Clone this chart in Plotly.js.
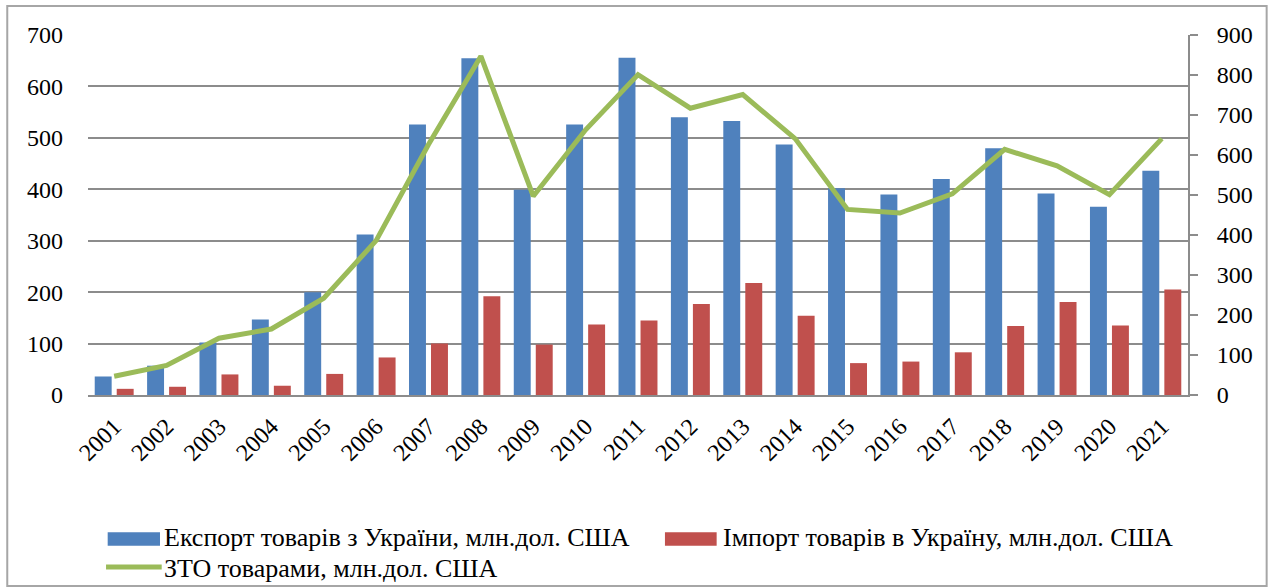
<!DOCTYPE html>
<html>
<head>
<meta charset="utf-8">
<script src="https://cdn.plot.ly/plotly-3.0.1.min.js"></script>
<style>
html,body{margin:0;padding:0;background:#fff;}
#chart{width:1276px;height:588px;}
</style>
</head>
<body>
<div id="chart"></div>
<script>
const years = ["2001","2002","2003","2004","2005","2006","2007","2008","2009","2010","2011","2012","2013","2014","2015","2016","2017","2018","2019","2020","2021"];
const exportVals = [36, 57, 102, 147, 200, 312, 526, 655, 399, 526, 656, 540, 533, 487, 402, 390, 420, 480, 392, 366, 436];
const importVals = [12, 16, 40, 18, 41, 73, 100, 192, 98, 137, 145, 177, 218, 154, 62, 65, 83, 134, 181, 135, 205];
const tradeVals = [47, 74, 142, 165, 242, 386, 626, 847, 497, 663, 801, 717, 751, 641, 464, 455, 503, 614, 573, 501, 641];
const seriesNames = ["Експорт товарів з України, млн.дол. США", "Імпорт товарів в Україну, млн.дол. США", "ЗТО товарами, млн.дол. США"];

const FONT = "Liberation Serif";
const GRID = "#8c8c8c";

const traces = [
  {type:"bar", x:years, y:exportVals, name:seriesNames[0], marker:{color:"#4F81BD"}, showlegend:false, hoverinfo:"skip"},
  {type:"bar", x:years, y:importVals, name:seriesNames[1], marker:{color:"#C0504D"}, showlegend:false, hoverinfo:"skip"},
  {type:"scatter", mode:"lines", x:years, y:tradeVals, yaxis:"y2", name:seriesNames[2], line:{color:"#9BBB59", width:5}, showlegend:false, hoverinfo:"skip"}
];

const layout = {
  width:1276, height:588,
  margin:{l:88, r:88, t:35, b:193},
  paper_bgcolor:"#fff", plot_bgcolor:"#fff",
  font:{family:FONT, size:24, color:"#000"},
  barmode:"group", bargap:0.16, bargroupgap:0.23,
  xaxis:{type:"category", tickangle:-45, showline:true, linecolor:GRID, linewidth:2, ticks:"", showgrid:false, zeroline:false,
         tickfont:{family:FONT, size:24, color:"#000"}, ticklabelstandoff:6},
  yaxis:{range:[0,700], dtick:100, showgrid:true, gridcolor:GRID, gridwidth:2, zeroline:false, showline:false, ticks:"",
         tickfont:{family:FONT, size:24, color:"#000"}, ticklabelstandoff:24},
  yaxis2:{range:[0,900], dtick:100, overlaying:"y", side:"right", showgrid:false, zeroline:false, showline:true, linecolor:GRID, linewidth:2,
          ticks:"outside", ticklen:8, tickcolor:GRID, tickwidth:2, tickfont:{family:FONT, size:24, color:"#000"}, ticklabelstandoff:14},
  shapes:[
    {type:"rect", xref:"paper", yref:"paper", x0:-0.0734, x1:1.0715, y0:-0.5306, y1:1.0806, line:{color:"#a6a6a6", width:2}, fillcolor:"rgba(0,0,0,0)"},
    {type:"rect", xref:"paper", yref:"paper", x0:0.0179, x1:0.06545, y0:-0.4186, y1:-0.3814, line:{width:0}, fillcolor:"#4F81BD"},
    {type:"rect", xref:"paper", yref:"paper", x0:0.5245, x1:0.5715, y0:-0.4186, y1:-0.3814, line:{width:0}, fillcolor:"#C0504D"},
    {type:"line", xref:"paper", yref:"paper", x0:0.0164, x1:0.0670, y0:-0.4778, y1:-0.4778, line:{color:"#9BBB59", width:5}}
  ],
  annotations:[
    {xref:"paper", yref:"paper", x:0.0686, y:-0.3972, xanchor:"left", yanchor:"middle", showarrow:false, borderpad:0, text:seriesNames[0], font:{family:FONT, size:26, color:"#000"}},
    {xref:"paper", yref:"paper", x:0.5764, y:-0.3972, xanchor:"left", yanchor:"middle", showarrow:false, borderpad:0, text:seriesNames[1], font:{family:FONT, size:26, color:"#000"}},
    {xref:"paper", yref:"paper", x:0.0686, y:-0.4806, xanchor:"left", yanchor:"middle", showarrow:false, borderpad:0, text:seriesNames[2], font:{family:FONT, size:26, color:"#000"}}
  ]
};

Plotly.newPlot("chart", traces, layout, {displayModeBar:false, staticPlot:true});
</script>
</body>
</html>
